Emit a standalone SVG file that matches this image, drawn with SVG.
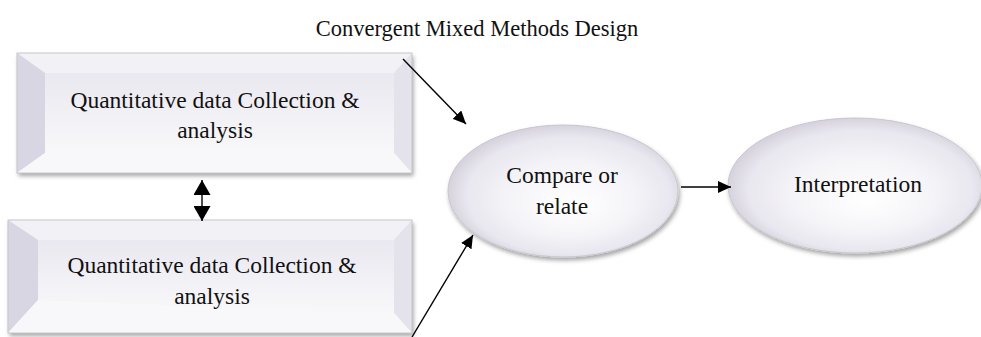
<svg xmlns="http://www.w3.org/2000/svg" width="981" height="337" viewBox="0 0 981 337">
  <style>
    .t { font-family: "Liberation Serif", "Times New Roman", serif; fill: #111; text-anchor: middle; }
    .lbl { font-size: 23.5px; }
    .ttl { font-size: 22.5px; }
    .edge { stroke: #000; stroke-width: 1.4; fill: none; }
    .frame { fill: none; stroke: #c8c8cc; stroke-width: 1; }
    .bl { fill: #d9d6e3; }
    .bt { fill: #f2f1f6; }
    .br { fill: #e4e2eb; }
    .bb { fill: #f8f7fa; }
  </style>
  <defs>
    <linearGradient id="face" x1="0" y1="0" x2="0" y2="1">
      <stop offset="0" stop-color="#eae8f0"/>
      <stop offset="1" stop-color="#f8f8fa"/>
    </linearGradient>
    <radialGradient id="ell" cx="0.52" cy="0.52" r="0.52" fx="0.55" fy="0.62">
      <stop offset="0" stop-color="#ffffff"/>
      <stop offset="0.55" stop-color="#f4f3f7"/>
      <stop offset="0.85" stop-color="#e9e7ef"/>
      <stop offset="1" stop-color="#d6d3de"/>
    </radialGradient>
    <filter id="shadow" x="-10%" y="-10%" width="125%" height="130%">
      <feDropShadow dx="1.5" dy="3" stdDeviation="2" flood-color="#000" flood-opacity="0.35"/>
    </filter>
    <marker id="ah" markerUnits="userSpaceOnUse" markerWidth="14" markerHeight="12" refX="13" refY="6" orient="auto">
      <path d="M0,0 L13,6 L0,12 z" fill="#000"/>
    </marker>
    <marker id="ahb" markerUnits="userSpaceOnUse" markerWidth="16" markerHeight="17" refX="15" refY="8.5" orient="auto-start-reverse">
      <path d="M0,0 L15,8.5 L0,17 z" fill="#000"/>
    </marker>
  </defs>

  <rect width="981" height="337" fill="#fff"/>

  <text class="t ttl" x="477" y="36">Convergent Mixed Methods Design</text>

  <g id="quant-top">
    <g filter="url(#shadow)">
      <rect x="17" y="53" width="395" height="120" fill="url(#face)"/>
    </g>
    <polygon class="bt" points="17,53 412,53 394,73 45,73"/>
    <polygon class="bl" points="17,53 45,73 45,153 17,173"/>
    <polygon class="br" points="412,53 412,173 394,153 394,73"/>
    <polygon class="bb" points="17,173 45,153 394,153 412,173"/>
    <rect x="45" y="73" width="349" height="80" fill="url(#face)"/>
    <rect class="frame" x="17" y="53" width="395" height="120"/>
    <text class="t lbl" x="215" y="108">Quantitative data Collection &amp;</text>
    <text class="t lbl" x="215" y="138">analysis</text>
  </g>

  <g id="quant-bottom">
    <g filter="url(#shadow)">
      <rect x="8" y="220" width="404" height="113" fill="url(#face)"/>
    </g>
    <polygon class="bt" points="8,220 412,220 394,240 38,240"/>
    <polygon class="bl" points="8,220 38,240 38,300 8,333"/>
    <polygon class="br" points="412,220 412,333 394,313 394,240"/>
    <polygon class="bb" points="8,333 38,300 394,313 412,333"/>
    <polygon points="38,240 394,240 394,313 38,300" fill="url(#face)"/>
    <rect class="frame" x="8" y="220" width="404" height="113"/>
    <text class="t lbl" x="212" y="273">Quantitative data Collection &amp;</text>
    <text class="t lbl" x="212" y="304">analysis</text>
  </g>

  <g id="compare">
    <ellipse cx="563" cy="191" rx="115" ry="66" fill="url(#ell)" stroke="#c8c6cf" stroke-width="1" filter="url(#shadow)"/>
    <text class="t lbl" x="562" y="183">Compare or</text>
    <text class="t lbl" x="562" y="214">relate</text>
  </g>

  <g id="interpretation">
    <ellipse cx="855" cy="185.5" rx="127" ry="67.5" fill="url(#ell)" stroke="#c8c6cf" stroke-width="1" filter="url(#shadow)"/>
    <text class="t lbl" x="858" y="192">Interpretation</text>
  </g>

  <g id="connectors">
    <line class="edge" x1="403" y1="59" x2="466" y2="124" marker-end="url(#ah)"/>
    <line class="edge" x1="412" y1="337" x2="473" y2="235" marker-end="url(#ah)"/>
    <line class="edge" x1="681" y1="187" x2="731" y2="187" marker-end="url(#ah)"/>
    <line class="edge" x1="202" y1="180" x2="202" y2="221" stroke-width="2" marker-start="url(#ahb)" marker-end="url(#ahb)"/>
  </g>
</svg>
